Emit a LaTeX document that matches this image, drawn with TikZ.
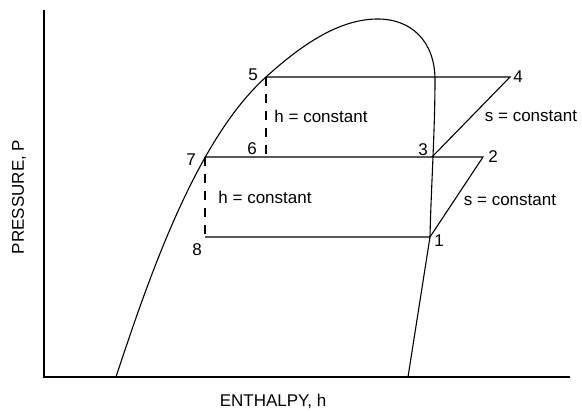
\documentclass[tikz,border=0pt]{standalone}
\usepackage{fontspec}
\setmainfont{Liberation Sans}
\begin{document}
\begin{tikzpicture}[x=1pt,y=-1pt,
  ln/.style={line width=1.1pt,black},
  dsh/.style={line width=1.1pt,black,dash pattern=on 9pt off 8pt},
  lbl/.style={inner sep=0pt,font=\fontsize{17}{19}\selectfont}]
\useasboundingbox (0,0) rectangle (582,412);
% axes
\coordinate (ytop) at (44,10);
\coordinate (orig) at (44,377);
\coordinate (xend) at (570,377);
\draw[ln] (ytop) -- (orig) -- (xend);
% points
\coordinate (p1) at (430,237);
\coordinate (p2) at (483,157);
\coordinate (p3) at (432,157);
\coordinate (p4) at (510,77);
\coordinate (p5) at (266,77);
\coordinate (p6) at (266,157);
\coordinate (p7) at (205,157);
\coordinate (p8) at (205,237);
% dome
\draw[ln] (116,377) .. controls (149,277) and (196,140) .. (p5)
  .. controls (310,37) and (345,19) .. (378,19)
  .. controls (410,19) and (435,40) .. (435,80)
  .. controls (435,130) and (431,190) .. (p1) -- (408,377);
% cycle lines
\draw[ln] (p5) -- (p4) -- (p3);
\draw[ln] (p7) -- (p2) -- (p1) -- (p8);
\draw[dsh] (p5) -- (p6);
\draw[dsh] (p7) -- (p8);
% labels
\node[lbl] (l1) at (439,241) {1};
\node[lbl] (l2) at (493,157) {2};
\node[lbl] (l3) at (423,150) {3};
\node[lbl] (l4) at (518,77) {4};
\node[lbl] (l5) at (253,75) {5};
\node[lbl] (l6) at (252,149) {6};
\node[lbl] (l7) at (191,160) {7};
\node[lbl] (l8) at (197,250) {8};
\node[lbl] (hc1) at (321,116) {h = constant};
\node[lbl] (hc2) at (265,197) {h = constant};
\node[lbl] (sc1) at (531,116) {s = constant};
\node[lbl] (sc2) at (510,200) {s = constant};
\node[lbl,rotate=90] (ylab) at (19,197) {PRESSURE, P};
\node[lbl] (xlab) at (273,401) {ENTHALPY, h};
\end{tikzpicture}
\end{document}
